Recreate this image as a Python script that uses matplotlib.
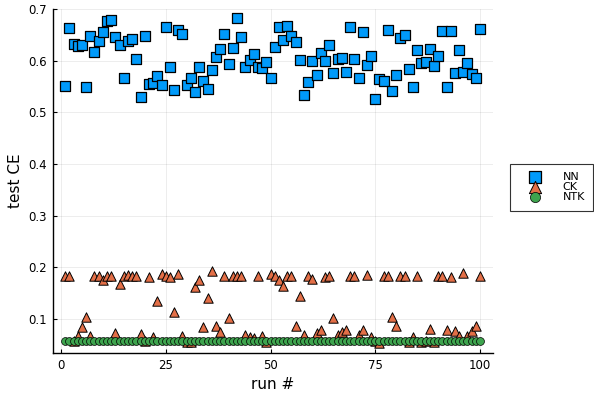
import numpy as np
import matplotlib
matplotlib.use("Agg")
import matplotlib.pyplot as plt

# run index
runs = np.arange(1, 101)

# NN test CE
nn = [0.551, 0.663, 0.632, 0.628, 0.630, 0.549, 0.647, 0.617, 0.639, 0.656,
      0.677, 0.679, 0.645, 0.630, 0.566, 0.639, 0.641, 0.603, 0.529, 0.647,
      0.555, 0.557, 0.570, 0.552, 0.666, 0.587, 0.544, 0.659, 0.651, 0.552,
      0.566, 0.539, 0.587, 0.560, 0.545, 0.581, 0.607, 0.623, 0.651, 0.593,
      0.624, 0.682, 0.645, 0.587, 0.601, 0.612, 0.588, 0.585, 0.597, 0.566,
      0.626, 0.665, 0.640, 0.668, 0.648, 0.636, 0.601, 0.533, 0.558, 0.599,
      0.572, 0.615, 0.599, 0.630, 0.576, 0.603, 0.605, 0.578, 0.666, 0.603,
      0.566, 0.655, 0.591, 0.610, 0.526, 0.565, 0.560, 0.659, 0.541, 0.572,
      0.644, 0.649, 0.584, 0.549, 0.620, 0.596, 0.597, 0.623, 0.589, 0.609,
      0.657, 0.549, 0.657, 0.576, 0.620, 0.579, 0.595, 0.574, 0.566, 0.661]

# CK test CE
ck = [0.183, 0.183, 0.057, 0.067, 0.085, 0.104, 0.068, 0.183, 0.183, 0.176,
      0.184, 0.183, 0.072, 0.168, 0.184, 0.186, 0.183, 0.183, 0.071, 0.057,
      0.181, 0.065, 0.135, 0.188, 0.183, 0.182, 0.114, 0.188, 0.068, 0.055,
      0.056, 0.162, 0.176, 0.084, 0.141, 0.193, 0.086, 0.074, 0.183, 0.102,
      0.183, 0.183, 0.183, 0.069, 0.066, 0.063, 0.183, 0.067, 0.055, 0.188,
      0.183, 0.176, 0.164, 0.183, 0.183, 0.087, 0.144, 0.069, 0.183, 0.178,
      0.072, 0.078, 0.182, 0.183, 0.101, 0.069, 0.075, 0.078, 0.183, 0.183,
      0.070, 0.078, 0.186, 0.065, 0.057, 0.054, 0.183, 0.183, 0.103, 0.087,
      0.183, 0.183, 0.055, 0.065, 0.183, 0.055, 0.057, 0.080, 0.055, 0.183,
      0.183, 0.078, 0.181, 0.077, 0.067, 0.189, 0.068, 0.076, 0.086, 0.183]

# NTK test CE (almost flat)
ntk = [0.058, 0.058, 0.058, 0.058, 0.058, 0.058, 0.058, 0.058, 0.058, 0.058,
       0.058, 0.058, 0.058, 0.058, 0.058, 0.058, 0.058, 0.058, 0.058, 0.058,
       0.058, 0.058, 0.058, 0.058, 0.058, 0.058, 0.058, 0.058, 0.058, 0.058,
       0.058, 0.058, 0.058, 0.058, 0.058, 0.058, 0.058, 0.058, 0.058, 0.058,
       0.058, 0.058, 0.058, 0.058, 0.058, 0.058, 0.058, 0.058, 0.058, 0.058,
       0.057, 0.058, 0.058, 0.058, 0.058, 0.058, 0.058, 0.058, 0.058, 0.058,
       0.058, 0.058, 0.058, 0.058, 0.058, 0.058, 0.058, 0.058, 0.058, 0.058,
       0.058, 0.058, 0.058, 0.058, 0.057, 0.057, 0.057, 0.057, 0.058, 0.058,
       0.058, 0.058, 0.058, 0.058, 0.058, 0.058, 0.058, 0.058, 0.058, 0.058,
       0.058, 0.058, 0.058, 0.058, 0.058, 0.058, 0.058, 0.058, 0.058, 0.058]

W, H = 594, 395
fig = plt.figure(figsize=(W / 100, H / 100), dpi=100)
ax = fig.add_axes([52.7 / W, 1 - 353 / H, (492.5 - 52.7) / W, (353 - 9) / H])

ax.scatter(runs, nn, marker="s", s=48, c="#009AFA", edgecolors="black", linewidths=0.9, label="NN", zorder=3)
ax.scatter(runs, ck, marker="^", s=46, c="#E36F47", edgecolors="black", linewidths=0.7, label="CK", zorder=3)
ax.scatter(runs, ntk, marker="o", s=32, c="#3EA44E", edgecolors="black", linewidths=0.5, label="NTK", zorder=3)

ax.set_xlim(-1.97, 102.97)
ax.set_ylim(0.0342, 0.7)
ax.set_xticks([0, 25, 50, 75, 100])
ax.set_yticks([0.1, 0.2, 0.3, 0.4, 0.5, 0.6, 0.7])
ax.set_yticklabels(["0.1", "0.2", "0.3", "0.4", "0.5", "0.6", "0.7"])
ax.grid(True, color="black", alpha=0.1, linewidth=0.5)
ax.set_axisbelow(True)
for side in ["top", "right"]:
    ax.spines[side].set_visible(False)
for side in ["left", "bottom"]:
    ax.spines[side].set_linewidth(1.0)
ax.tick_params(direction="in", length=3, width=0.8, labelsize=8.5, pad=4)
ax.set_xlabel("run #", fontsize=11)
ax.set_ylabel("test CE", fontsize=11)

leg = ax.legend(loc="upper left", bbox_to_anchor=(510 / W, 1 - 164 / H),
                bbox_transform=fig.transFigure, borderaxespad=0, fontsize=8,
                labelspacing=0.0, handletextpad=1.0, borderpad=0.75,
                fancybox=False, framealpha=1, edgecolor="#333333",
                handlelength=3.0, markerscale=1.3)
leg.get_frame().set_linewidth(0.8)

fig.savefig("out.png", dpi=100)
